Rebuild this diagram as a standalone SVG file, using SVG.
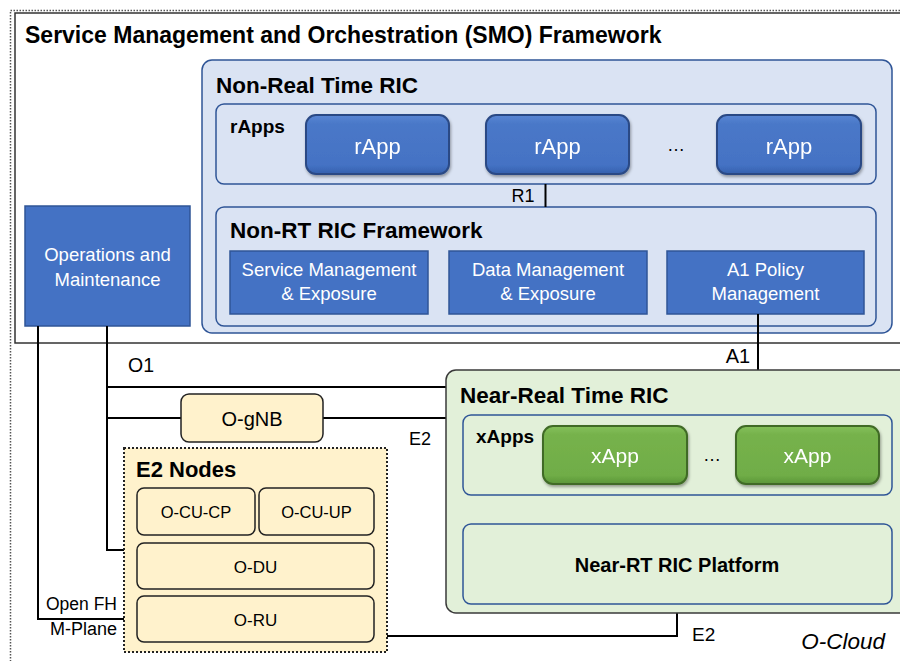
<svg xmlns="http://www.w3.org/2000/svg" width="900" height="661" viewBox="0 0 900 661">
<defs>
<style>
text{font-family:"Liberation Sans",Arial,sans-serif;fill:#000}
.b{font-weight:bold}
.w{fill:#fff}
.c{text-anchor:middle}
.r{text-anchor:end}
.line{fill:none;stroke:#000;stroke-width:2}
.blue{fill:#4472C4;stroke:#2F5597;stroke-width:1.5}
.lb{fill:#DAE3F3;stroke:#2F5597;stroke-width:1.5}
.lg{fill:#E2F0D9;stroke:#3A3A3A;stroke-width:1.5}
.yl{fill:#FFF2CC;stroke:#222;stroke-width:1.5}
.rapp{fill:url(#gb);stroke:#2B4A85;stroke-width:2}
.xapp{fill:url(#gg);stroke:#3F6B25;stroke-width:2}
</style>
<linearGradient id="gb" x1="0" y1="0" x2="0" y2="1">
<stop offset="0" stop-color="#5a86d4"/>
<stop offset="0.15" stop-color="#4a78c8"/>
<stop offset="0.85" stop-color="#4472C4"/>
<stop offset="1" stop-color="#3560AD"/>
</linearGradient>
<linearGradient id="gg" x1="0" y1="0" x2="0" y2="1">
<stop offset="0" stop-color="#84c05a"/>
<stop offset="0.15" stop-color="#76b24c"/>
<stop offset="0.85" stop-color="#70AD47"/>
<stop offset="1" stop-color="#5b9638"/>
</linearGradient>
<filter id="sh" x="-10%" y="-10%" width="130%" height="140%">
<feDropShadow dx="1" dy="2" stdDeviation="1.5" flood-color="#000" flood-opacity="0.35"/>
</filter>
</defs>

<g id="o-cloud">
<rect x="10.5" y="10.5" width="900" height="660" fill="none" stroke="#555" stroke-width="1.5" stroke-dasharray="1.5 1.5"/>
<text x="885" y="649" class="r" font-size="22.5" font-style="italic">O-Cloud</text>
</g>

<g id="smo">
<rect x="15" y="13" width="900" height="330" fill="#fff" stroke="#333" stroke-width="1.5"/>
<text x="25" y="43" class="b" font-size="23">Service Management and Orchestration (SMO) Framework</text>
</g>

<g id="non-rt-ric">
<rect x="202" y="60" width="690" height="273" rx="10" class="lb"/>
<text x="216" y="93" class="b" font-size="22.5">Non-Real Time RIC</text>
</g>

<g id="rapps">
<rect x="216" y="104" width="660" height="80" rx="8" class="lb"/>
<text x="230" y="133" class="b" font-size="19">rApps</text>
</g>
<g id="rapp1" filter="url(#sh)">
<rect x="306" y="115" width="143" height="59" rx="10" class="rapp"/>
<text x="377.5" y="154" class="c w" font-size="22">rApp</text>
</g>
<g id="rapp2" filter="url(#sh)">
<rect x="486" y="115" width="143" height="59" rx="10" class="rapp"/>
<text x="557.5" y="154" class="c w" font-size="22">rApp</text>
</g>
<text x="676" y="151" class="c" font-size="18">…</text>
<g id="rapp3" filter="url(#sh)">
<rect x="717" y="115" width="144" height="59" rx="10" class="rapp"/>
<text x="789" y="154" class="c w" font-size="22">rApp</text>
</g>

<g id="non-rt-framework">
<rect x="216" y="207" width="660" height="119" rx="8" class="lb"/>
<text x="230" y="238" class="b" font-size="22.5">Non-RT RIC Framework</text>
</g>
<g id="sme">
<rect x="230" y="251" width="198" height="63" class="blue"/>
<text x="329" y="276" class="c w" font-size="18.5">Service Management</text>
<text x="329" y="300" class="c w" font-size="18.5">&amp; Exposure</text>
</g>
<g id="dme">
<rect x="449" y="251" width="198" height="63" class="blue"/>
<text x="548" y="276" class="c w" font-size="18.5">Data Management</text>
<text x="548" y="300" class="c w" font-size="18.5">&amp; Exposure</text>
</g>
<g id="a1pm">
<rect x="667" y="251" width="197" height="63" class="blue"/>
<text x="765.5" y="276" class="c w" font-size="18.5">A1 Policy</text>
<text x="765.5" y="300" class="c w" font-size="18.5">Management</text>
</g>

<g id="oam">
<rect x="25" y="206" width="165" height="120" class="blue"/>
<text x="107.5" y="261" class="c w" font-size="18.5">Operations and</text>
<text x="107.5" y="286" class="c w" font-size="18.5">Maintenance</text>
</g>

<g id="connectors">
<path class="line" d="M545.5 184V207"/>
<path class="line" d="M758 314V370"/>
<path class="line" d="M38 326V619H124"/>
<path class="line" d="M107 326V550H124"/>
<path class="line" d="M107 387H446"/>
<path class="line" d="M107 418H181"/>
<path class="line" d="M323 418H446"/>
<path class="line" d="M676.5 495V524"/>
<path class="line" d="M677 604V636H386"/>
<text x="523" y="202" class="c" font-size="18">R1</text>
<text x="738" y="363" class="c" font-size="20">A1</text>
<text x="128" y="372" font-size="19.5">O1</text>
<text x="420" y="445" class="c" font-size="18">E2</text>
<text x="670" y="517" class="r" font-size="19">Near-RT RIC API</text>
<text x="692" y="641" font-size="19">E2</text>
<text x="117" y="610" class="r" font-size="17.5">Open FH</text>
<text x="117" y="635" class="r" font-size="18">M-Plane</text>
</g>

<g id="near-rt-ric">
<rect x="446" y="370" width="470" height="243" rx="10" class="lg"/>
<text x="460" y="403" class="b" font-size="22.5">Near-Real Time RIC</text>
</g>
<g id="xapps">
<rect x="463" y="415" width="429" height="80" rx="8" fill="#E2F0D9" stroke="#2F5597" stroke-width="1.5"/>
<text x="476" y="443" class="b" font-size="19">xApps</text>
</g>
<g id="xapp1" filter="url(#sh)">
<rect x="543" y="426" width="144" height="58" rx="10" class="xapp"/>
<text x="615" y="463" class="c w" font-size="21">xApp</text>
</g>
<text x="712" y="461" class="c" font-size="18">…</text>
<g id="xapp2" filter="url(#sh)">
<rect x="736" y="426" width="143" height="58" rx="10" class="xapp"/>
<text x="807.5" y="463" class="c w" font-size="21">xApp</text>
</g>
<g id="near-rt-platform">
<rect x="463" y="524" width="429" height="80" rx="8" fill="#E2F0D9" stroke="#2F5597" stroke-width="1.5"/>
<text x="677" y="572" class="c b" font-size="20">Near-RT RIC Platform</text>
</g>

<g id="o-gnb">
<rect x="181" y="394" width="142" height="48" rx="8" class="yl"/>
<text x="252" y="426" class="c" font-size="20">O-gNB</text>
</g>

<g id="e2-nodes">
<rect x="124" y="448" width="263" height="204" fill="#FFF2CC" stroke="#222" stroke-width="2" stroke-dasharray="2 2"/>
<text x="136" y="477" class="b" font-size="22">E2 Nodes</text>
</g>
<g id="o-cu-cp">
<rect x="137" y="488" width="118" height="47" rx="7" class="yl"/>
<text x="196" y="518" class="c" font-size="16.5">O-CU-CP</text>
</g>
<g id="o-cu-up">
<rect x="259" y="488" width="115" height="47" rx="7" class="yl"/>
<text x="316.5" y="518" class="c" font-size="16.5">O-CU-UP</text>
</g>
<g id="o-du">
<rect x="137" y="543" width="237" height="46" rx="7" class="yl"/>
<text x="255.5" y="573" class="c" font-size="17">O-DU</text>
</g>
<g id="o-ru">
<rect x="137" y="596" width="237" height="46" rx="7" class="yl"/>
<text x="255.5" y="626" class="c" font-size="17">O-RU</text>
</g>
</svg>
